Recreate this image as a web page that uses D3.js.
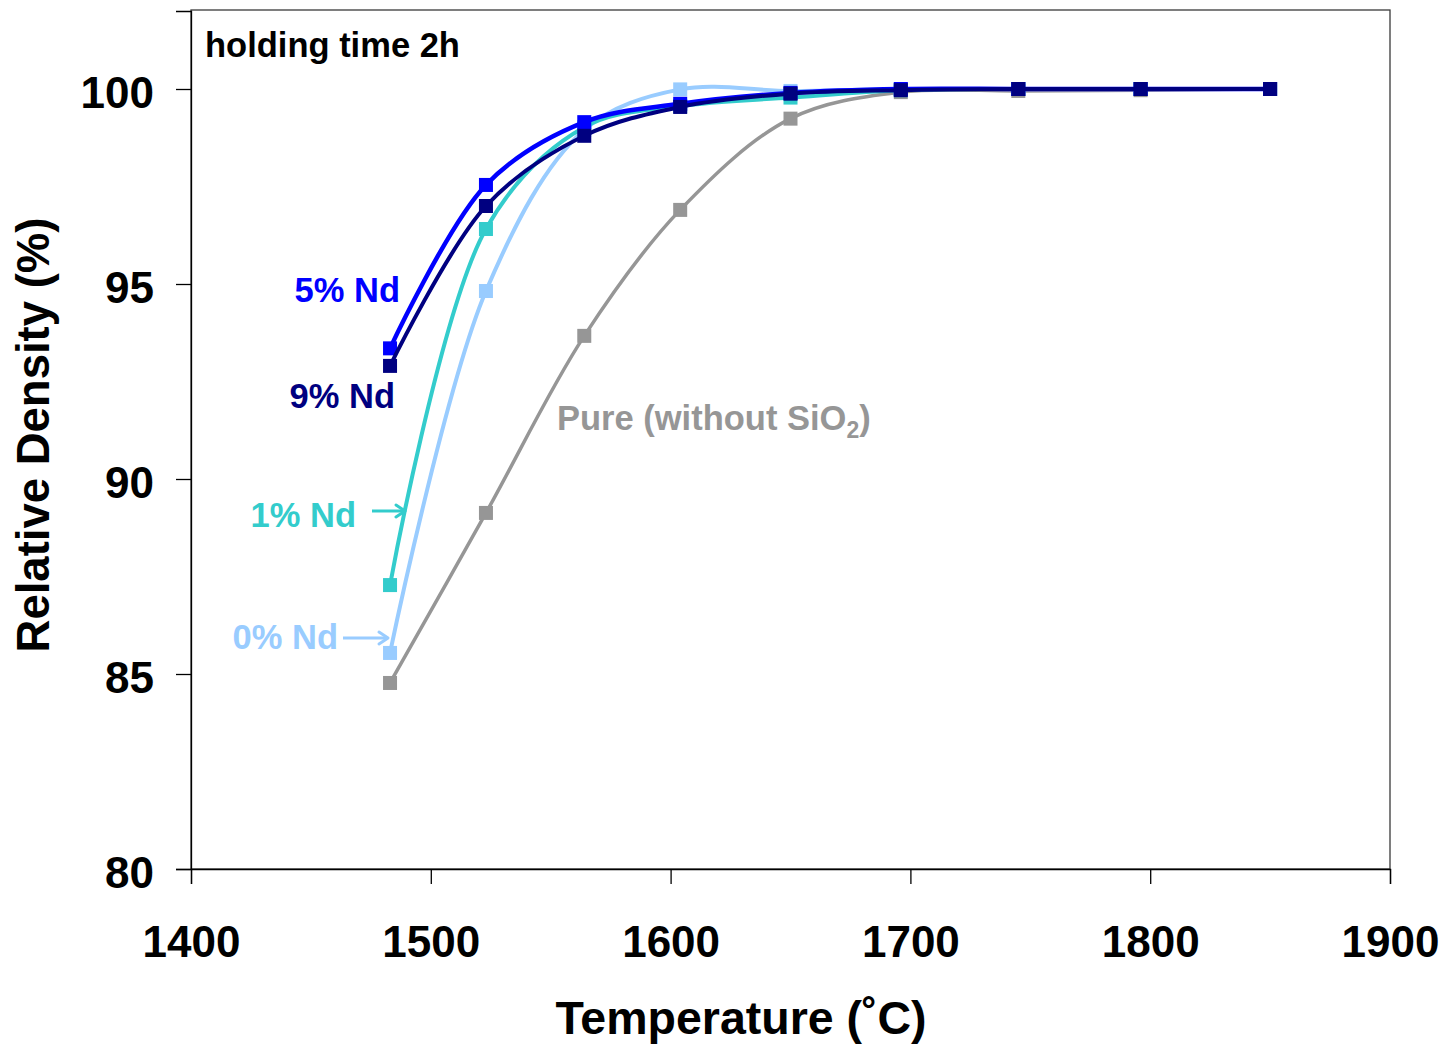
<!DOCTYPE html>
<html>
<head>
<meta charset="utf-8">
<script src="https://cdn.jsdelivr.net/npm/d3@7"></script>
<style>
  html, body { margin: 0; padding: 0; background: #fff; }
  svg { display: block; font-family: "Liberation Sans", Arial, sans-serif; font-weight: bold; }
</style>
</head>
<body>
<svg id="chart" width="1443" height="1044"></svg>
<script>
// Sintering temperature (°C) for every sample
const temperatures = [1483, 1523, 1564, 1604, 1650, 1696, 1745, 1796, 1850];

// Relative density (%) per composition
const densityPure = [84.77, 89.13, 93.67, 96.90, 99.24, 99.92, 99.95, 99.97, 100.0];
const density0Nd  = [85.54, 94.82, 98.95, 99.99, 99.95, 100.0, 100.0, 100.0, 100.0];
const density1Nd  = [87.28, 96.41, 99.02, 99.56, 99.78, 99.97, 100.0, 100.0, 100.0];
const density5Nd  = [93.35, 97.54, 99.15, 99.62, 99.90, 100.0, 100.0, 100.0, 100.0];
const density9Nd  = [92.90, 97.00, 98.80, 99.54, 99.88, 99.97, 100.0, 100.0, 100.0];

const xTicks = [1400, 1500, 1600, 1700, 1800, 1900];
const yTicks = [80, 85, 90, 95, 100];

const series = [
  { name: "Pure (without SiO2)", values: densityPure, color: "#969696", width: 3.5 },
  { name: "0% Nd", values: density0Nd, color: "#99CCFF", width: 4 },
  { name: "1% Nd", values: density1Nd, color: "#33CCCC", width: 4 },
  { name: "5% Nd", values: density5Nd, color: "#0000FF", width: 4.5 },
  { name: "9% Nd", values: density9Nd, color: "#000080", width: 4 }
];

const svg = d3.select("#chart");
const plot = { left: 191, right: 1390, top: 10, bottom: 869 };

const x = d3.scaleLinear().domain([1400, 1900]).range([plot.left, plot.right]);
const y = d3.scaleLinear().domain([80, 102]).range([plot.bottom, plot.top + 1]);

// plot frame
svg.append("rect")
  .attr("x", plot.left).attr("y", plot.top)
  .attr("width", plot.right - plot.left).attr("height", plot.bottom - plot.top)
  .attr("fill", "#fff").attr("stroke", "#3a3a3a").attr("stroke-width", 1.3);

// y axis
const yAxis = svg.append("g")
  .attr("transform", `translate(${plot.left},0)`)
  .call(d3.axisLeft(y).tickValues(yTicks).tickSize(15).tickPadding(22).tickFormat(d3.format("d")));
yAxis.select(".domain").attr("stroke", "#000").attr("stroke-width", 1.3);
yAxis.selectAll(".tick line").attr("stroke", "#000").attr("stroke-width", 1.3);
yAxis.selectAll(".tick text")
  .attr("fill", "#000").attr("font-size", 44).attr("font-weight", "bold")
  .attr("font-family", "'Liberation Sans', Arial, sans-serif")
  .attr("dy", "0.42em");

// x axis
const xAxis = svg.append("g")
  .attr("transform", `translate(0,${plot.bottom})`)
  .call(d3.axisBottom(x).tickValues(xTicks).tickSize(15).tickPadding(42).tickFormat(d3.format("d")));
xAxis.select(".domain").attr("stroke", "#000").attr("stroke-width", 1.3);
xAxis.selectAll(".tick line").attr("stroke", "#000").attr("stroke-width", 1.3);
xAxis.selectAll(".tick text")
  .attr("fill", "#000").attr("font-size", 44).attr("font-weight", "bold")
  .attr("font-family", "'Liberation Sans', Arial, sans-serif");

// axis titles
svg.append("text")
  .attr("x", 741).attr("y", 1034)
  .attr("text-anchor", "middle").attr("font-size", 46.5)
  .text("Temperature (˚C)");

svg.append("text")
  .attr("transform", "translate(49,435) rotate(-90)")
  .attr("text-anchor", "middle").attr("font-size", 45.5)
  .text("Relative Density (%)");

// in-plot caption
svg.append("text")
  .attr("x", 205).attr("y", 57)
  .attr("font-size", 34.5)
  .text("holding time 2h");

// smoothed curves with square markers
const line = d3.line()
  .x((d, i) => x(temperatures[i]))
  .y(d => y(d))
  .curve(d3.curveCatmullRom.alpha(0.5));

const markerSize = 14;
series.forEach(s => {
  const g = svg.append("g");
  g.append("path")
    .attr("d", line(s.values))
    .attr("fill", "none")
    .attr("stroke", s.color)
    .attr("stroke-width", s.width)
    .attr("stroke-linejoin", "round");
  g.selectAll("rect")
    .data(s.values)
    .join("rect")
    .attr("x", (d, i) => x(temperatures[i]) - markerSize / 2)
    .attr("y", d => y(d) - markerSize / 2)
    .attr("width", markerSize)
    .attr("height", markerSize)
    .attr("fill", s.color);
});

// series labels
const labelFont = 34.5;
svg.append("text").attr("x", 400).attr("y", 302).attr("text-anchor", "end")
  .attr("font-size", labelFont).attr("fill", "#0000FF").text("5% Nd");
svg.append("text").attr("x", 395).attr("y", 408).attr("text-anchor", "end")
  .attr("font-size", labelFont).attr("fill", "#000080").text("9% Nd");
svg.append("text").attr("x", 356).attr("y", 527).attr("text-anchor", "end")
  .attr("font-size", labelFont).attr("fill", "#33CCCC").text("1% Nd");
svg.append("text").attr("x", 338).attr("y", 649).attr("text-anchor", "end")
  .attr("font-size", labelFont).attr("fill", "#99CCFF").text("0% Nd");

const pure = svg.append("text").attr("x", 557).attr("y", 430)
  .attr("font-size", labelFont).attr("fill", "#969696");
pure.append("tspan").text("Pure (without SiO");
pure.append("tspan").attr("font-size", 23).attr("dy", 8).text("2");
pure.append("tspan").attr("dy", -8).text(")");

// pointer arrows
function arrow(x1, x2, yy, color) {
  svg.append("line")
    .attr("x1", x1).attr("y1", yy).attr("x2", x2 - 1).attr("y2", yy)
    .attr("stroke", color).attr("stroke-width", 3);
  svg.append("path")
    .attr("d", `M${x2 - 9},${yy - 6} L${x2},${yy} L${x2 - 9},${yy + 6}`)
    .attr("fill", "none").attr("stroke", color).attr("stroke-width", 3)
    .attr("stroke-linecap", "round").attr("stroke-linejoin", "round");
}
arrow(372, 405, 511, "#33CCCC");
arrow(343, 388, 638, "#99CCFF");
</script>
</body>
</html>
